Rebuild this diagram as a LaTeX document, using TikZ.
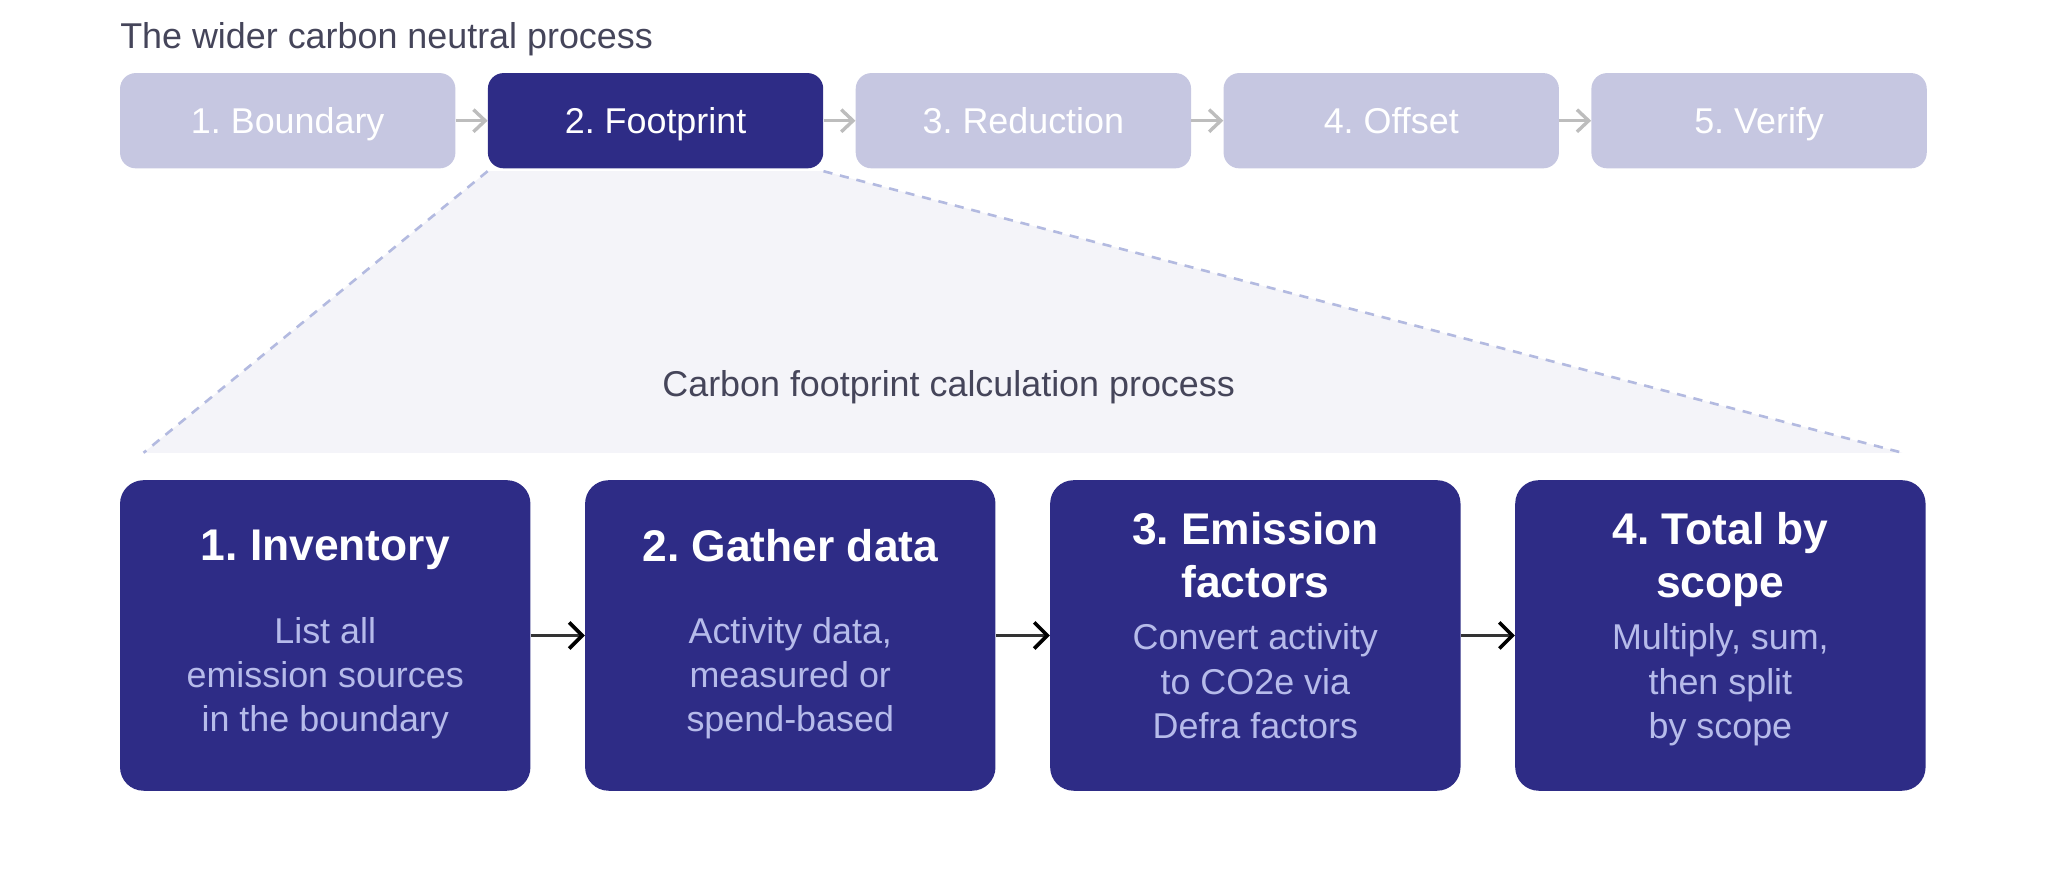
\documentclass[tikz,border=0pt]{standalone}
\usepackage{fontspec}
\setmainfont{Liberation Sans}
\usepackage{tikz}
\usetikzlibrary{arrows.meta,positioning}
\frenchspacing

\definecolor{navy}{HTML}{2E2C86}
\definecolor{lilac}{HTML}{C6C7E1}
\definecolor{mist}{HTML}{F4F4F9}
\definecolor{dashblue}{HTML}{B3BAE0}
\definecolor{subtext}{HTML}{B6BBEA}
\definecolor{inkgray}{HTML}{45455A}
\definecolor{arrowgray}{HTML}{BDBDBD}
\definecolor{linkgray}{HTML}{333333}

\begin{document}
\begin{tikzpicture}[x=1pt,y=-1pt,
    stagebox/.style={rounded corners=12pt, minimum width=257pt, minimum height=73pt, inner sep=0pt,
        text=white, font=\fontsize{27.5}{33}\selectfont, text height=19.8pt, text depth=0pt},
    stepbox/.style={rounded corners=18pt, fill=navy, minimum width=314.5pt, minimum height=238pt, inner sep=0pt},
    steptitle/.style={text=white, font=\fontsize{34}{41}\selectfont\bfseries, align=center, inner sep=0pt,
        execute at begin node=\vphantom{Ag}, execute at end node=\vphantom{Ag}},
    stepbody/.style={text=subtext, font=\fontsize{27.5}{34}\selectfont, align=center, inner sep=0pt,
        execute at begin node=\vphantom{Ag}, execute at end node=\vphantom{Ag}},
    heading/.style={text=inkgray, font=\fontsize{27.5}{33}\selectfont, inner sep=0pt, text height=19.8pt, text depth=0pt},
    stagearrow/.style={draw=arrowgray, line width=2.6pt, -{Straight Barb[length=9pt,width=17pt]}},
    steparrow/.style={draw=linkgray, line width=2.8pt, -{Straight Barb[length=10pt,width=20pt,color=black]}},
    zoomline/.style={draw=dashblue, line width=2pt, dash pattern=on 7pt off 6pt}]

    \useasboundingbox (0,0) rectangle (1568,667);

    % Wider process
    \node[heading, anchor=west] (widertitle) at (92,27) {The wider carbon neutral process};
    \node[stagebox, fill=lilac] (boundary) at (220.5,92.5) {1. Boundary};
    \node[stagebox, fill=navy, right=24.5pt of boundary] (footprint) {2. Footprint};
    \node[stagebox, fill=lilac, right=24.5pt of footprint] (reduction) {3. Reduction};
    \node[stagebox, fill=lilac, right=24.5pt of reduction] (offset) {4. Offset};
    \node[stagebox, fill=lilac, right=24.5pt of offset] (verify) {5. Verify};

    \draw[stagearrow] (boundary) -- (footprint);
    \draw[stagearrow] (footprint) -- (reduction);
    \draw[stagearrow] (reduction) -- (offset);
    \draw[stagearrow] (offset) -- (verify);

    % Zoom from footprint into the calculation
    \coordinate (zoomL) at (110,347);
    \coordinate (zoomR) at (1458,347);
    \fill[mist] ([yshift=-2pt]footprint.south west) -- ([yshift=-2pt]footprint.south east) -- (zoomR) -- (zoomL) -- cycle;
    \draw[zoomline] ([yshift=-2pt]footprint.south west) -- (zoomL);
    \draw[zoomline] ([yshift=-2pt]footprint.south east) -- (zoomR);
    \node[heading] (calctitle) at (727,294) {Carbon footprint calculation process};

    % Calculation steps
    \node[stepbox] (inventory) at (249.25,487) {};
    \node[stepbox, right=41.5pt of inventory] (gather) {};
    \node[stepbox, right=41.5pt of gather] (factors) {};
    \node[stepbox, right=41.5pt of factors] (total) {};

    \node[steptitle] (inventoryT) at ([yshift=65.6pt]inventory.center) {1. Inventory};
    \node[stepbody] (inventoryB) at ([yshift=-32.75pt]inventory.center) {List all\\emission sources\\in the boundary};
    \node[steptitle] (gatherT) at ([yshift=65.6pt]gather.center) {2. Gather data};
    \node[stepbody] (gatherB) at ([yshift=-32.75pt]gather.center) {Activity data,\\measured or\\spend-based};
    \node[steptitle] (factorsT) at ([yshift=58.1pt]factors.center) {3. Emission\\factors};
    \node[stepbody] (factorsB) at ([yshift=-37.75pt]factors.center) {Convert activity\\to CO2e via\\Defra factors};
    \node[steptitle] (totalT) at ([yshift=58.1pt]total.center) {4. Total by\\scope};
    \node[stepbody] (totalB) at ([yshift=-37.75pt]total.center) {Multiply, sum,\\then split\\by scope};

    \draw[steparrow] (inventory) -- (gather);
    \draw[steparrow] (gather) -- (factors);
    \draw[steparrow] (factors) -- (total);

\end{tikzpicture}
\end{document}
